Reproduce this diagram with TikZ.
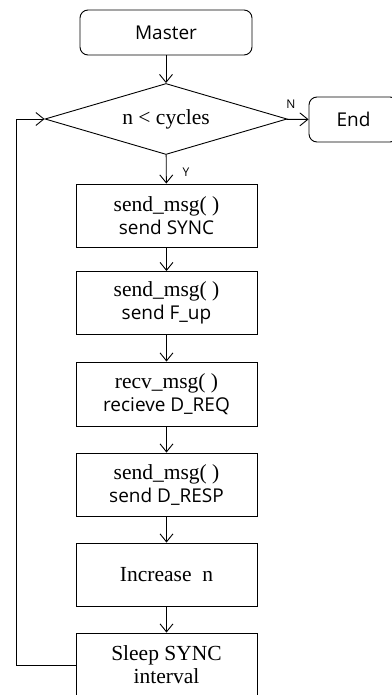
\documentclass[tikz,border=0pt]{standalone}
\usepackage{fontspec}
\setmainfont{Liberation Serif}
\newfontfamily\uisans{Open Sans}
\usetikzlibrary{shapes.geometric,arrows.meta}

\begin{document}
\begin{tikzpicture}[x=1pt,y=-1pt,line width=0.9pt,
  box/.style={draw,minimum width=181pt,minimum height=63pt,inner sep=0pt,align=center,font=\fontsize{21.5}{23}\selectfont},
  term/.style={draw,rounded corners=8pt,minimum height=45pt,inner sep=0pt,font=\uisans\fontsize{19}{22}\selectfont},
  flow/.style={-{Straight Barb[length=8pt,width=13pt]}},
  tag/.style={inner sep=0pt,font=\uisans\fontsize{12}{14}\selectfont}]

\useasboundingbox (0,0) rectangle (391,695);

% Start, test and end
\node[term,minimum width=172pt] (master) at (166,32.5) {Master};
\node[draw,diamond,aspect=3.4,minimum width=242pt,minimum height=71pt,inner sep=0pt,
  font=\fontsize{21.5}{23}\selectfont] (cond) at (166,119) {n < cycles};
\node[term,minimum width=89pt] (end) at (353.5,119.5) {End};

% Loop body
\node[box] (sync) at (166.5,215.5) {send\_msg( )\\{\uisans\fontsize{19}{23}\selectfont send SYNC}};
\node[box] (fup) at (166.5,303) {send\_msg( )\\{\uisans\fontsize{19}{23}\selectfont send F\_up}};
\node[box,minimum height=64pt] (dreq) at (166.5,394) {recv\_msg( )\\{\uisans\fontsize{19}{23}\selectfont recieve D\_REQ}};
\node[box] (dresp) at (166.5,484.5) {send\_msg( )\\{\uisans\fontsize{19}{23}\selectfont send D\_RESP}};
\node[box] (incr) at (166.5,574.5) {Increase\ \ n};
\node[box,minimum height=64pt] (sleep) at (166.5,665) {Sleep SYNC\\interval};

% Arrows down the chart
\draw[flow] (master) -- (cond);
\draw[flow] (cond) -- (sync) node[tag,pos=0.62,right=16pt] {Y};
\draw[flow] (cond) -- (end) node[tag,pos=0.2,above=10pt] {N};
\draw[flow] (sync) -- (fup);
\draw[flow] (fup) -- (dreq);
\draw[flow] (dreq) -- (dresp);
\draw[flow] (dresp) -- (incr);
\draw[flow] (incr) -- (sleep);

% Back to the test
\coordinate (loop) at (16,665);
\draw[flow] (sleep.west) -- (loop) |- (cond.west);

\end{tikzpicture}
\end{document}
